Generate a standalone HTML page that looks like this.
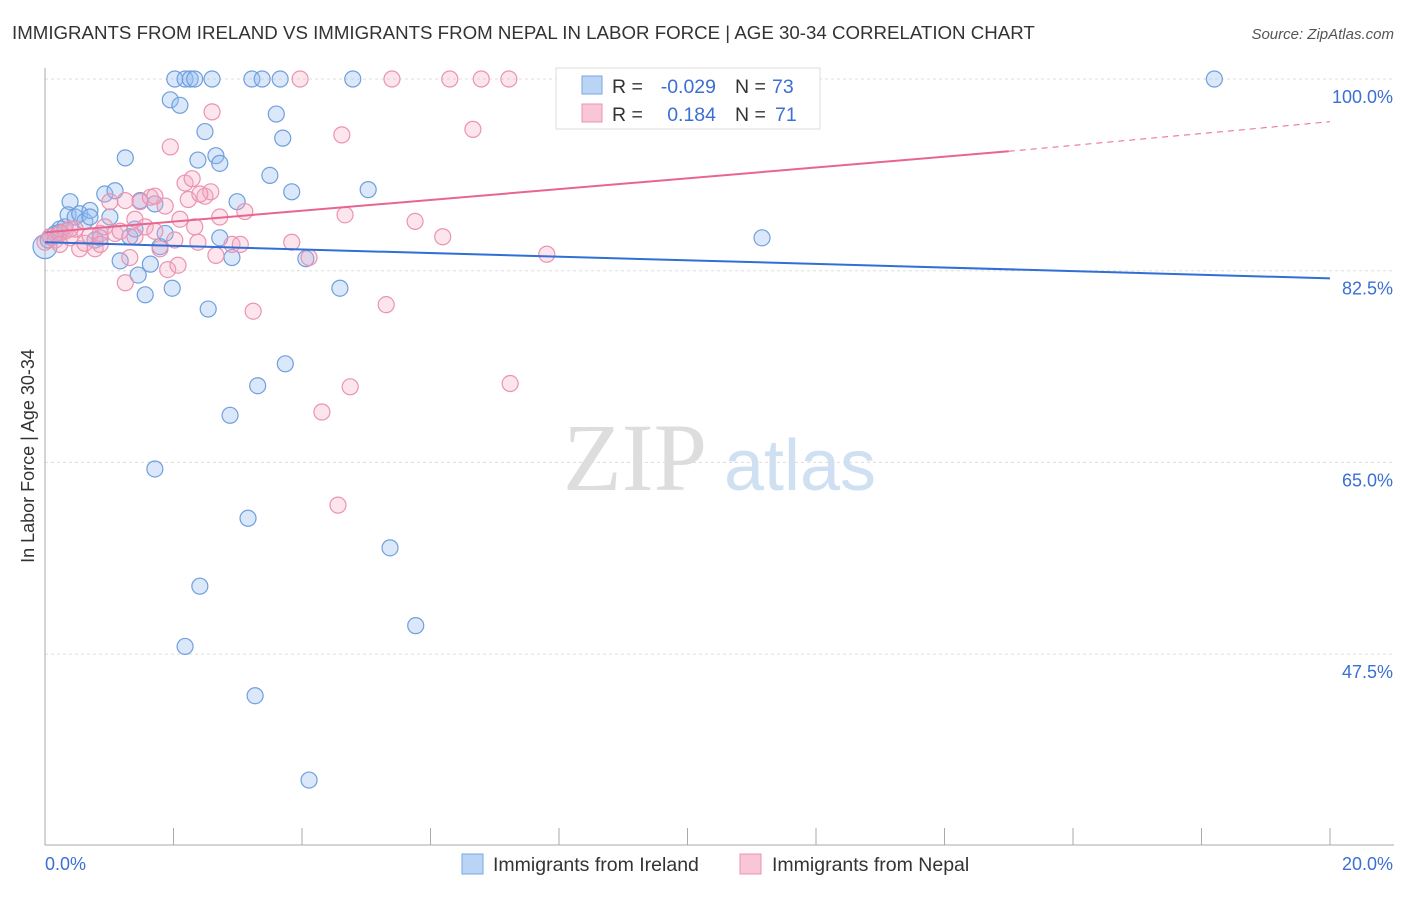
<!DOCTYPE html>
<html><head><meta charset="utf-8">
<style>
body{margin:0;background:#fff;font-family:"Liberation Sans",sans-serif;}
</style></head>
<body>
<svg width="1406" height="892" xmlns="http://www.w3.org/2000/svg">
<text x="12" y="39" font-size="18.7" fill="#333">IMMIGRANTS FROM IRELAND VS IMMIGRANTS FROM NEPAL IN LABOR FORCE | AGE 30-34 CORRELATION CHART</text>
<text x="1394" y="39" font-size="15" fill="#555" font-style="italic" text-anchor="end">Source: ZipAtlas.com</text>
<text x="635" y="490" font-size="96" fill="#ddd" font-family="Liberation Serif" text-anchor="middle">ZIP</text>
<text x="800" y="490" font-size="72" fill="#cfe0f3" text-anchor="middle">atlas</text>
<g id="grid"></g>
<g id="axes"></g>
<text transform="translate(34,456) rotate(-90)" font-size="18" fill="#333" text-anchor="middle">In Labor Force | Age 30-34</text>
<g id="marks"></g>
<g>
<rect x="556" y="68" width="264" height="61" fill="#fff" stroke="#ddd"/>
<rect x="582" y="76" width="20" height="18" fill="#b9d4f4" stroke="#7aa7e0"/>
<rect x="582" y="104" width="20" height="18" fill="#f9c6d6" stroke="#eb93b1"/>
<text x="612" y="93" font-size="19.5" fill="#333">R =</text>
<text x="716" y="93" font-size="19.5" fill="#3b6fd4" text-anchor="end">-0.029</text>
<text x="735" y="93" font-size="19.5" fill="#333">N =</text>
<text x="772" y="93" font-size="19.5" fill="#3b6fd4">73</text>
<text x="612" y="121" font-size="19.5" fill="#333">R =</text>
<text x="716" y="121" font-size="19.5" fill="#3b6fd4" text-anchor="end">0.184</text>
<text x="735" y="121" font-size="19.5" fill="#333">N =</text>
<text x="775" y="121" font-size="19.5" fill="#3b6fd4">71</text>
</g>
<g>
<rect x="462" y="854" width="21" height="20" fill="#b9d4f4" stroke="#7aa7e0"/>
<text x="493" y="871" font-size="19.5" fill="#333">Immigrants from Ireland</text>
<rect x="740" y="854" width="21" height="20" fill="#f9c6d6" stroke="#eb93b1"/>
<text x="772" y="871" font-size="19.5" fill="#333">Immigrants from Nepal</text>
</g>
</svg>
<script>
const yTicks=[100,82.5,65,47.5];
const yTickLabels=["100.0%","82.5%","65.0%","47.5%"];
const irelandX=[0,0.08,0.16,0.23,0.31,0.39,0.36,0.47,0.54,0.62,0.7,0.78,0.86,0.93,1.01,1.09,1.17,1.25,1.32,1.4,1.45,1.56,1.64,1.71,1.79,1.87,1.95,1.98,2.02,2.1,2.18,2.26,2.33,2.38,2.49,2.54,2.6,2.66,2.72,2.72,2.91,2.99,2.88,3.16,3.22,3.27,3.31,3.38,3.5,3.6,3.66,3.7,3.74,3.84,4.06,4.11,4.59,4.79,5.03,5.37,5.77,2.41,2.18,1.71,11.16,18.2,0.23,0.05,0.7,1.48];
const irelandY=[84.7,85.6,85.9,86.3,86.5,88.8,87.6,87.4,87.7,87.0,88.0,85.3,85.5,89.5,87.4,89.8,83.4,92.8,85.6,86.3,82.1,80.3,83.1,88.6,84.7,85.9,98.1,80.9,100,97.6,100,100,100,92.6,95.2,79.0,100,93.0,92.3,85.5,83.7,88.8,69.3,59.9,100,43.7,72.0,100,91.2,96.8,100,94.6,74.0,89.7,83.6,36.0,80.9,100,89.9,57.2,50.1,53.7,48.2,64.4,85.5,100,86.0,85.3,87.4,88.9];
const nepalX=[0,0.08,0.16,0.23,0.31,0.39,0.47,0.54,0.62,0.7,0.78,0.86,0.93,1.01,1.09,1.17,1.25,1.32,1.4,1.48,1.56,1.64,1.71,1.79,1.87,1.91,1.95,2.02,2.07,2.1,2.18,2.23,2.29,2.33,2.38,2.49,2.58,2.6,2.66,2.72,2.91,3.04,3.11,3.24,3.84,3.97,4.11,4.31,4.62,4.67,4.75,4.56,5.31,5.4,5.76,6.19,6.3,6.66,6.79,7.22,7.24,7.81,11.16,2.41,1.71,1.25,1.4,0.23,0.39,0.86];
const nepalY=[85.1,85.6,85.3,85.9,86.1,85.5,86.3,84.5,85.0,85.7,84.5,85.9,86.5,88.8,85.9,86.1,81.4,83.7,87.2,88.8,86.5,89.2,86.1,84.5,88.4,82.6,93.8,85.3,83.0,87.2,90.5,89.0,90.9,86.5,85.1,89.3,89.7,97.0,83.9,87.4,84.9,84.9,87.9,78.8,85.1,100,83.7,69.6,94.9,87.6,71.9,61.1,79.4,100,87.0,85.6,100,95.4,100,100,72.2,84.0,100,89.5,89.3,88.9,85.6,84.9,86.3,84.9];
const NS="http://www.w3.org/2000/svg";
const X0=45,X1=1330,Y100=79,PX=191.7/17.5;
const sx=v=>X0+(v/20)*(X1-X0);
const sy=v=>Y100+(100-v)*PX;
function mk(t,a,p){const e=document.createElementNS(NS,t);for(const k in a)e.setAttribute(k,a[k]);p.appendChild(e);return e;}
const grid=document.getElementById('grid'),axes=document.getElementById('axes'),marks=document.getElementById('marks');
yTicks.forEach((t,i)=>{
 const l=mk('line',{x1:X0,x2:1394,y1:sy(t),y2:sy(t),stroke:'#ddd','stroke-dasharray':'3,3'},grid);
 
 
 const tx=mk('text',{x:1393,y:sy(t)+24,'font-size':18,fill:'#3b6fd4','text-anchor':'end'},axes);
 tx.textContent=yTickLabels[i];
 
 
});
const ax=mk('line',{x1:X0,x2:1394,y1:845,y2:845,stroke:'#aaa'},axes);


const ay=mk('line',{x1:X0,x2:X0,y1:68,y2:845,stroke:'#aaa'},axes);


for(let i=0;i<=10;i++){const t=mk('line',{x1:sx(i*2),x2:sx(i*2),y1:828,y2:845,stroke:'#aaa'},axes);
 
 }
const xl0=mk('text',{x:45,y:870,'font-size':18,fill:'#3b6fd4'},axes);xl0.textContent='0.0%';


const xl1=mk('text',{x:1393,y:870,'font-size':18,fill:'#3b6fd4','text-anchor':'end'},axes);xl1.textContent='20.0%';


irelandX.forEach((x,i)=>{const c=mk('circle',{cx:sx(x),cy:sy(irelandY[i]),r:i==0?12:8,fill:'rgba(150,190,240,0.35)',stroke:'#6f9fdd','stroke-width':1.2},marks);
 
 });
nepalX.forEach((x,i)=>{const c=mk('circle',{cx:sx(x),cy:sy(nepalY[i]),r:8,fill:'rgba(245,170,195,0.3)',stroke:'#eb93b1','stroke-width':1.2},marks);
 
 });
const bl=mk('line',{x1:sx(0),y1:sy(85.1),x2:sx(20),y2:sy(81.8),stroke:'#2f6fd6','stroke-width':2},marks);


const pl=mk('line',{x1:sx(0),y1:sy(86.0),x2:sx(15),y2:sy(93.4),stroke:'#e8658f','stroke-width':2},marks);


const pd=mk('line',{x1:sx(15),y1:sy(93.4),x2:sx(20),y2:sy(96.1),stroke:'#e8658f','stroke-width':1,'stroke-dasharray':'6,5'},marks);


</script>
</body></html>
